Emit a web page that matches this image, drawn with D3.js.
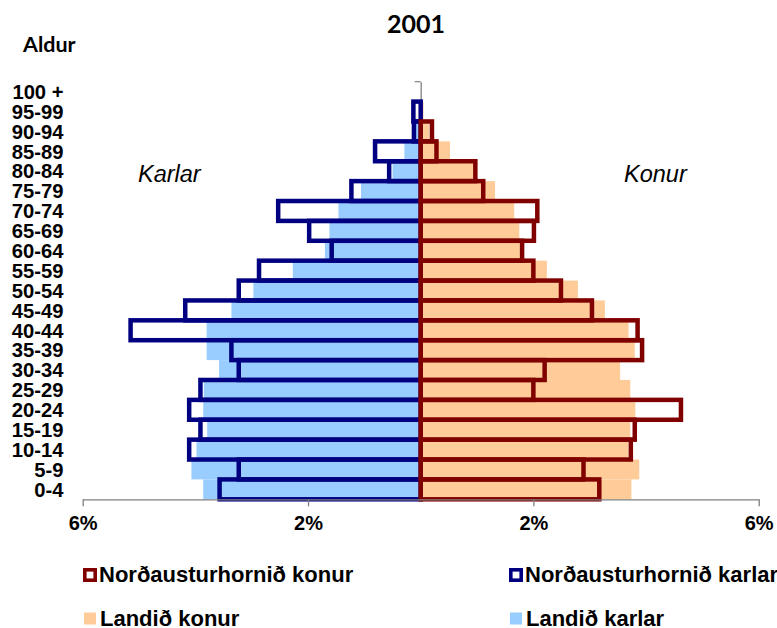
<!DOCTYPE html>
<html>
<head>
<meta charset="utf-8">
<script src="https://cdn.jsdelivr.net/npm/d3@7"></script>
<style>
  body { margin: 0; background: #fff; }
  svg { display: block; }
</style>
</head>
<body>
<div id="chart"></div>
<script>
// age groups, bottom to top
var ages = ["0-4", "5-9", "10-14", "15-19", "20-24", "25-29", "30-34", "35-39", "40-44", "45-49",
  "50-54", "55-59", "60-64", "65-69", "70-74", "75-79", "80-84", "85-89", "90-94", "95-99", "100 +"];

// percent of population
var naKarlar = [3.57, 3.23, 4.11, 3.91, 4.11, 3.91, 3.23, 3.36, 5.15, 4.18,
  3.23, 2.87, 1.58, 1.98, 2.53, 1.23, 0.56, 0.81, 0.12, 0.13, 0];
var landidKarlar = [3.86, 4.07, 3.98, 3.79, 3.86, 3.85, 3.58, 3.80, 3.80, 3.36,
  2.97, 2.27, 1.70, 1.62, 1.46, 1.06, 0.50, 0.29, 0.10, 0.03, 0];
var naKonur = [3.17, 2.89, 3.73, 3.80, 4.62, 2.00, 2.20, 3.93, 3.85, 3.04,
  2.49, 2.00, 1.80, 2.01, 2.07, 1.11, 0.97, 0.28, 0.20, 0, 0];
var landidKonur = [3.74, 3.88, 3.68, 3.72, 3.81, 3.72, 3.54, 3.80, 3.69, 3.27,
  2.79, 2.24, 1.76, 1.75, 1.66, 1.32, 0.93, 0.52, 0.15, 0.05, 0];

var xTicks = [-6, -2, 2, 6];

var svgWidth = 777, svgHeight = 628;

var svg = d3.select("#chart")
  .append("svg")
  .attr("width", svgWidth)
  .attr("height", svgHeight);

// scales
var xScale = d3.scaleLinear()
  .domain([-6, 6])
  .range([82.7, 758.7]);

var yScale = d3.scaleBand()
  .domain(ages.slice().reverse())
  .range([81.7, 499.3])
  .padding(0);

var x0 = xScale(0);
var bh = yScale.bandwidth();

// title texts
svg.append("text")
  .attr("x", 416).attr("y", 33)
  .attr("text-anchor", "middle")
  .attr("font-family", "Lato, 'Open Sans', sans-serif")
  .attr("font-weight", "bold")
  .attr("font-size", 25)
  .text("2001");

svg.append("text")
  .attr("x", 23).attr("y", 52)
  .attr("font-family", "Lato, 'Open Sans', sans-serif")
  .attr("font-weight", "bold")
  .attr("font-size", 21.5)
  .text("Aldur");

svg.append("text")
  .attr("x", 138).attr("y", 182)
  .attr("font-family", "'Liberation Sans', Arial, sans-serif")
  .attr("font-style", "italic")
  .attr("font-size", 23.5)
  .text("Karlar");

svg.append("text")
  .attr("x", 624).attr("y", 182)
  .attr("font-family", "'Liberation Sans', Arial, sans-serif")
  .attr("font-style", "italic")
  .attr("font-size", 23.5)
  .text("Konur");

// vertical category axis at 0
var leftAxis = d3.axisLeft(yScale).tickSize(0).tickFormat("");
svg.append("g")
  .attr("transform", `translate(${x0}, 0)`)
  .call(leftAxis)
  .call(g => g.select(".domain").attr("stroke", "#808080").attr("stroke-width", 1.3));

// tick marks between categories
svg.append("g").selectAll("line")
  .data(d3.range(ages.length + 1))
  .enter()
  .append("line")
  .attr("x1", x0 - 6).attr("x2", x0)
  .attr("y1", i => 81.7 + i * bh)
  .attr("y2", i => 81.7 + i * bh)
  .attr("stroke", i => i == 0 ? "#808080" : "#000")
  .attr("stroke-width", 1.2);

// filled bars (whole country)
svg.append("g").selectAll("rect")
  .data(ages)
  .enter()
  .append("rect")
  .attr("x", (d, i) => xScale(-landidKarlar[i]))
  .attr("y", d => yScale(d))
  .attr("width", (d, i) => x0 - xScale(-landidKarlar[i]))
  .attr("height", bh)
  .attr("fill", "#99ccff");

svg.append("g").selectAll("rect")
  .data(ages)
  .enter()
  .append("rect")
  .attr("x", x0)
  .attr("y", d => yScale(d))
  .attr("width", (d, i) => xScale(landidKonur[i]) - x0)
  .attr("height", bh)
  .attr("fill", "#ffcc99");

// outlined bars (Norðausturhornið)
svg.append("g").selectAll("rect")
  .data(ages.filter((d, i) => naKarlar[i] > 0))
  .enter()
  .append("rect")
  .attr("x", d => xScale(-naKarlar[ages.indexOf(d)]))
  .attr("y", d => yScale(d))
  .attr("width", d => x0 - xScale(-naKarlar[ages.indexOf(d)]))
  .attr("height", bh)
  .attr("fill", "none")
  .attr("stroke", "#000080")
  .attr("stroke-width", 4.5);

svg.append("g").selectAll("rect")
  .data(ages.filter((d, i) => naKonur[i] > 0))
  .enter()
  .append("rect")
  .attr("x", x0)
  .attr("y", d => yScale(d))
  .attr("width", d => xScale(naKonur[ages.indexOf(d)]) - x0)
  .attr("height", bh)
  .attr("fill", "none")
  .attr("stroke", "#800000")
  .attr("stroke-width", 4.5);

// age labels
svg.append("g").selectAll("text")
  .data(ages)
  .enter()
  .append("text")
  .attr("x", 63.5)
  .attr("y", d => yScale(d) + bh / 2 + 7.3)
  .attr("text-anchor", "end")
  .attr("font-family", "'Liberation Sans', Arial, sans-serif")
  .attr("font-weight", "bold")
  .attr("font-size", 20.2)
  .text(d => d);

// bottom axis
var bottomAxis = d3.axisBottom(xScale)
  .tickValues(xTicks)
  .tickSize(7)
  .tickSizeOuter(0)
  .tickFormat(d => Math.abs(d) + "%");

svg.append("g")
  .attr("transform", `translate(0, 499.3)`)
  .call(bottomAxis)
  .call(g => g.select(".domain").attr("stroke", "#808080").attr("stroke-width", 1.3))
  .call(g => g.selectAll(".tick line").attr("stroke", "#808080").attr("stroke-width", 1.3))
  .call(g => g.selectAll(".tick text")
    .attr("y", 17)
    .attr("fill", "#000")
    .attr("font-family", "'Liberation Sans', Arial, sans-serif")
    .attr("font-weight", "bold")
    .attr("font-size", 20));

// legend
var legendItems = [
  { name: "Norðausturhornið konur", color: "#800000", outline: true, x: 83, y: 575 },
  { name: "Norðausturhornið karlar", color: "#000080", outline: true, x: 509, y: 575 },
  { name: "Landið konur", color: "#ffcc99", outline: false, x: 84, y: 618.5 },
  { name: "Landið karlar", color: "#99ccff", outline: false, x: 510, y: 618.5 }
];

var legend = svg.append("g").selectAll("g")
  .data(legendItems)
  .enter()
  .append("g");

legend.append("rect")
  .attr("x", d => d.outline ? d.x + 1.8 : d.x)
  .attr("y", d => d.outline ? d.y - 5.2 : d.y - 6)
  .attr("width", d => d.outline ? 10.4 : 12)
  .attr("height", d => d.outline ? 10.4 : 12)
  .attr("fill", d => d.outline ? "#fff" : d.color)
  .attr("stroke", d => d.outline ? d.color : "none")
  .attr("stroke-width", 3.6);

legend.append("text")
  .attr("x", d => d.x + 16)
  .attr("y", d => d.y + 7)
  .attr("font-family", "'Liberation Sans', Arial, sans-serif")
  .attr("font-weight", "bold")
  .attr("font-size", 22)
  .text(d => d.name);
</script>
</body>
</html>
